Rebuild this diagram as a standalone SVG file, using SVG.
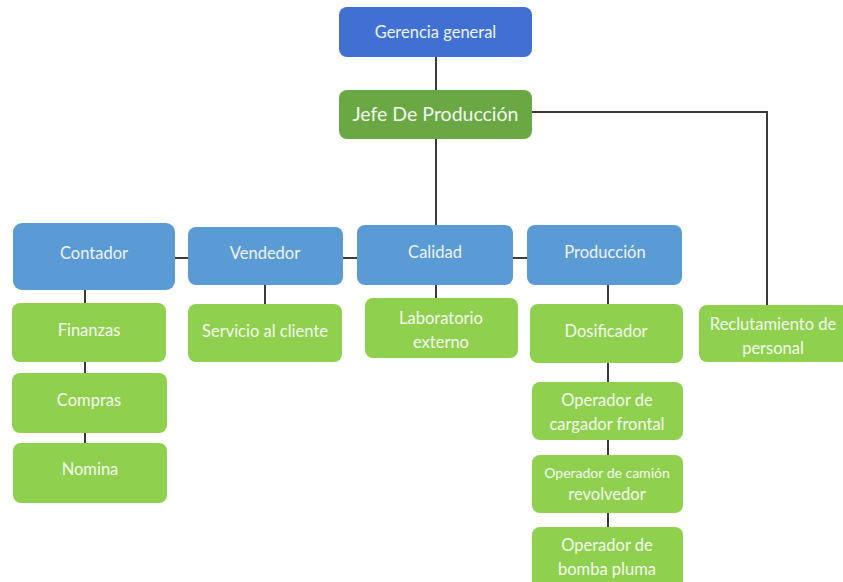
<svg xmlns="http://www.w3.org/2000/svg" width="843" height="582" viewBox="0 0 843 582">
  <style>
    .top { fill: #3f70d2; }
    .blue { fill: #5b9bd5; }
    .dark { fill: #6aa843; }
    .green { fill: #8fd14f; }
    text { font-family: Lato, "Open Sans", "Liberation Sans", sans-serif; font-size: 16.5px; text-anchor: middle; dominant-baseline: central; fill: #f4f9ee; }
    .tb { fill: #eef4fc; }
    .big { font-size: 19.5px; }
    .sm { font-size: 14px; }
    .conn line, .conn polyline { stroke: #3a3a3a; stroke-width: 2; fill: none; }
  </style>
  <rect width="843" height="582" fill="#ffffff"/>

  <g class="conn">
    <line x1="436" y1="57" x2="436" y2="90"/>
    <polyline points="532,112 767,112 767,305"/>
    <line x1="436" y1="139" x2="436" y2="225"/>
    <line x1="175" y1="258" x2="188" y2="258"/>
    <line x1="343" y1="258" x2="357" y2="258"/>
    <line x1="513" y1="258" x2="527" y2="258"/>
    <line x1="85" y1="290" x2="85" y2="303"/>
    <line x1="85" y1="362" x2="85" y2="373"/>
    <line x1="85" y1="433" x2="85" y2="443"/>
    <line x1="265" y1="285" x2="265" y2="304"/>
    <line x1="436" y1="285" x2="436" y2="298"/>
    <line x1="608" y1="285" x2="608" y2="304"/>
    <line x1="608" y1="363" x2="608" y2="382"/>
    <line x1="608" y1="440" x2="608" y2="455"/>
    <line x1="608" y1="513" x2="608" y2="527"/>
  </g>

  <g id="gerencia">
    <rect class="top" x="339" y="7" width="193" height="50" rx="8"/>
    <text class="tb" x="435.5" y="32">Gerencia general</text>
  </g>
  <g id="jefe">
    <rect class="dark" x="339" y="90" width="193" height="49" rx="8"/>
    <text class="big" x="435.5" y="113">Jefe De Producción</text>
  </g>

  <g id="contador">
    <rect class="blue" x="13" y="223" width="162" height="67" rx="9"/>
    <text class="tb" x="94" y="253">Contador</text>
  </g>
  <g id="vendedor">
    <rect class="blue" x="188" y="227" width="155" height="58" rx="8"/>
    <text class="tb" x="265" y="253">Vendedor</text>
  </g>
  <g id="calidad">
    <rect class="blue" x="357" y="225" width="156" height="60" rx="8"/>
    <text class="tb" x="435" y="252">Calidad</text>
  </g>
  <g id="produccion">
    <rect class="blue" x="527" y="225" width="155" height="60" rx="8"/>
    <text class="tb" x="605" y="252">Producción</text>
  </g>

  <g id="finanzas">
    <rect class="green" x="12" y="303" width="154" height="59" rx="8"/>
    <text x="89" y="330">Finanzas</text>
  </g>
  <g id="compras">
    <rect class="green" x="12" y="373" width="155" height="60" rx="8"/>
    <text x="89" y="400">Compras</text>
  </g>
  <g id="nomina">
    <rect class="green" x="13" y="443" width="154" height="60" rx="8"/>
    <text x="90" y="469">Nomina</text>
  </g>

  <g id="servicio">
    <rect class="green" x="188" y="304" width="154" height="58" rx="8"/>
    <text x="265" y="331">Servicio al cliente</text>
  </g>

  <g id="laboratorio">
    <rect class="green" x="365" y="298" width="153" height="60" rx="8"/>
    <text x="441" y="318">Laboratorio</text>
    <text x="441" y="342">externo</text>
  </g>

  <g id="dosificador">
    <rect class="green" x="530" y="304" width="153" height="59" rx="8"/>
    <text x="606" y="331">Dosificador</text>
  </g>
  <g id="cargador">
    <rect class="green" x="532" y="382" width="151" height="58" rx="8"/>
    <text x="607" y="400">Operador de</text>
    <text x="607" y="424">cargador frontal</text>
  </g>
  <g id="camion">
    <rect class="green" x="532" y="455" width="151" height="58" rx="8"/>
    <text class="sm" x="607" y="472">Operador de camión</text>
    <text x="607" y="494">revolvedor</text>
  </g>
  <g id="bomba">
    <rect class="green" x="532" y="527" width="151" height="62" rx="8"/>
    <text x="607" y="545">Operador de</text>
    <text x="607" y="569">bomba pluma</text>
  </g>

  <g id="reclutamiento">
    <rect class="green" x="699" y="305" width="150" height="57" rx="8"/>
    <text x="773" y="324">Reclutamiento de</text>
    <text x="773" y="348">personal</text>
  </g>
</svg>
